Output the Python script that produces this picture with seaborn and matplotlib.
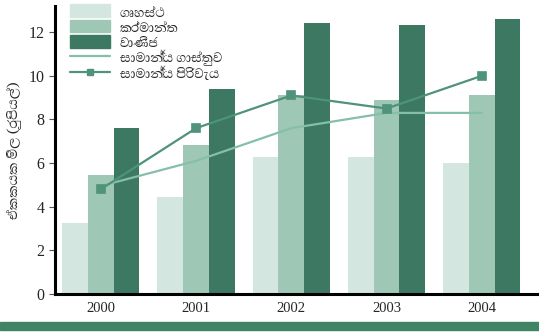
import numpy as np
import pandas as pd
import matplotlib
matplotlib.use("Agg")
import matplotlib.pyplot as plt
from matplotlib import font_manager
import seaborn as sns
from matplotlib.patches import Patch, Rectangle
from matplotlib.lines import Line2D

years = ["2000", "2001", "2002", "2003", "2004"]
series_names = ["ගෘහස්ථ", "කර්මාන්ත", "වාණිජ"]
household = [3.25, 4.45, 6.3, 6.3, 6.0]
industrial = [5.45, 6.85, 9.1, 8.9, 9.1]
commercial = [7.6, 9.4, 12.4, 12.35, 12.6]
line_names = ["සාමාන්‍ය ගාස්තුව", "සාමාන්‍ය පිරිවැය"]
avg_tariff = [4.95, 6.1, 7.6, 8.3, 8.3]
avg_cost = [4.8, 7.6, 9.1, 8.5, 10.0]
y_ticks = [0, 2, 4, 6, 8, 10, 12]
y_label = "ඒකකයක මිල (රුපියල්)"

bar_colors = ["#d3e6e0", "#9fc7b6", "#3c7862"]
tariff_color = "#86bfa9"
cost_color = "#4e937a"

# register Sinhala fonts
sinhala_families = []
for f in font_manager.findSystemFonts():
    name = f.split("/")[-1]
    if name.startswith("AbhayaLibre-Regular") or name.startswith("NotoSansSinhala"):
        try:
            font_manager.fontManager.addfont(f)
            fam = font_manager.FontProperties(fname=f).get_name()
            if fam not in sinhala_families:
                sinhala_families.append(fam)
        except Exception:
            pass
sinhala_families.sort(key=lambda n: 0 if "Abhaya" in n else 1)

df = pd.DataFrame({
    "year": years * 3,
    "value": household + industrial + commercial,
    "sector": [s for s in series_names for _ in years],
})

sns.set_style("white")
plt.rcParams["font.family"] = sinhala_families + ["DejaVu Sans"]

fig = plt.figure(figsize=(5.39, 3.33), dpi=100)
ax = fig.add_axes([55 / 539, 39 / 333, 1 - 55 / 539, (294 - 6) / 333])

sns.barplot(data=df, x="year", y="value", hue="sector", palette=bar_colors,
            width=0.81, saturation=1, ax=ax, legend=False, edgecolor="none")

sns.pointplot(x=years, y=avg_tariff, color=tariff_color, markers="", linewidth=1.6,
              ax=ax, errorbar=None)
sns.pointplot(x=years, y=avg_cost, color=cost_color, markers="s", markersize=6,
              linewidth=1.6, ax=ax, errorbar=None)

ax.set_xlim(-0.48, 4.6)
ax.set_ylim(0, 13.2)
ax.set_yticks(y_ticks)
ax.set_yticklabels([str(t) for t in y_ticks], family="Liberation Serif", fontsize=11.5)
ax.set_xticks(range(len(years)))
ax.set_xticklabels(years, family="Liberation Serif", fontsize=10.5)
ax.set_xticks([i + 0.5 for i in range(len(years) - 1)], minor=True)
ax.tick_params(axis="x", which="major", length=0, pad=6)
ax.tick_params(axis="x", which="minor", length=8, width=0.8, direction="inout", color="#555555")
ax.tick_params(axis="y", which="major", length=4, width=0.8, direction="out", left=True, color="#555555")
ax.set_xlabel("")
ax.set_ylabel(y_label, fontsize=12.5, labelpad=5)

for s in ["top", "right"]:
    ax.spines[s].set_visible(False)
for s in ["left", "bottom"]:
    ax.spines[s].set_color("black")
    ax.spines[s].set_linewidth(2.2)

handles = [Patch(color=c) for c in bar_colors] + [
    Line2D([], [], color=tariff_color, lw=1.6),
    Line2D([], [], color=cost_color, lw=1.6, marker="s", markersize=5),
]
ax.legend(handles, series_names + line_names, loc="upper left",
          bbox_to_anchor=(0.01, 1.04), frameon=False, fontsize=12,
          handlelength=2.4, handleheight=0.8, handletextpad=0.6,
          labelspacing=0.0, borderaxespad=0.2)

fig.patches.append(Rectangle((0, 3 / 333), 1, 8 / 333, transform=fig.transFigure,
                             color="#3f8463", zorder=0))

fig.savefig("out.png", dpi=100)
